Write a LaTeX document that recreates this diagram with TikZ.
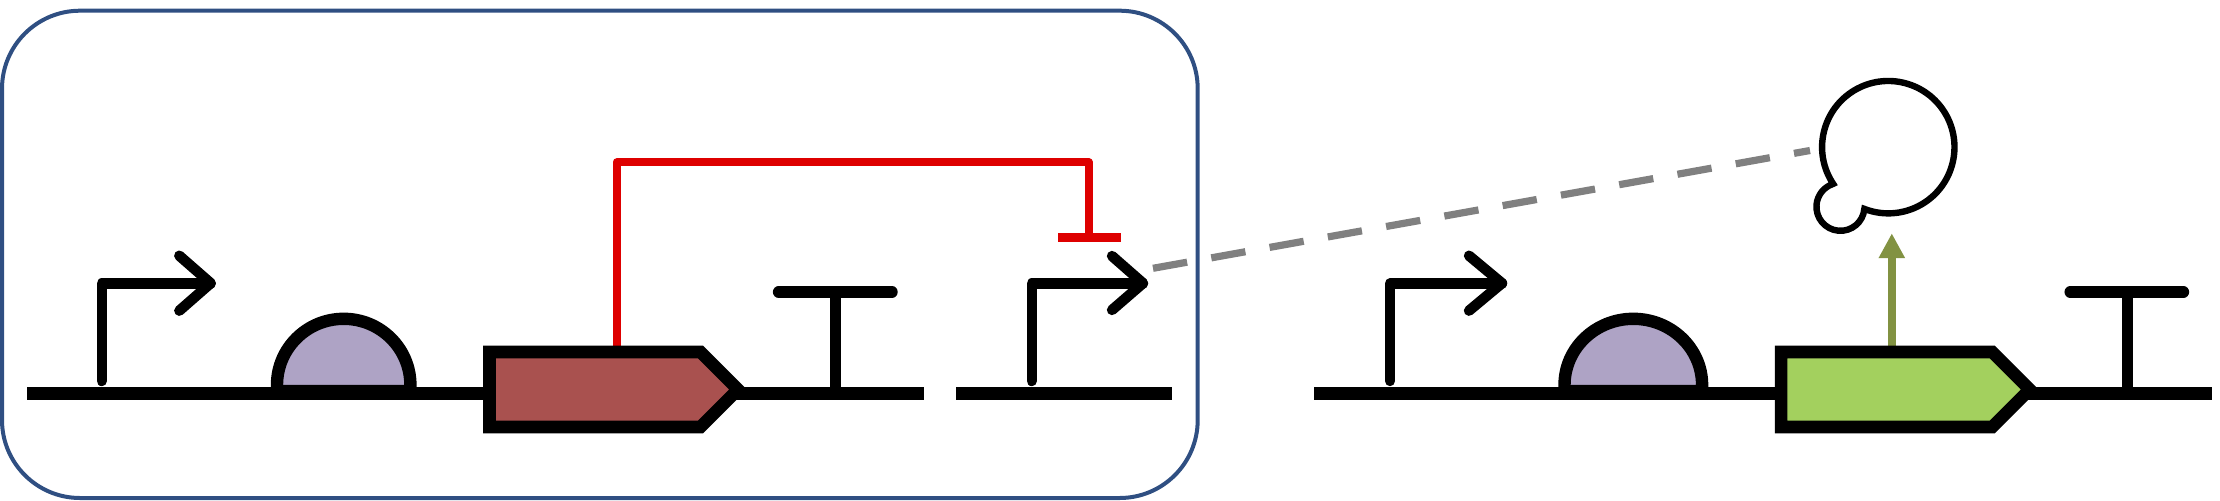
\documentclass[tikz,border=0pt]{standalone}
\usetikzlibrary{arrows.meta}
\definecolor{framecol}{RGB}{47,79,130}
\definecolor{rbscol}{RGB}{174,163,197}
\definecolor{geneAcol}{RGB}{169,81,79}
\definecolor{geneBcol}{RGB}{163,208,94}
\definecolor{repcol}{RGB}{222,0,0}
\definecolor{prodcol}{RGB}{130,146,66}
\tikzset{
  backbone/.style={line width=9.6pt},
  promoter/.style={line width=7.8pt,line cap=round,line join=round},
  terminator/.style={line width=8.6pt,line cap=round},
  rbspart/.style={line width=9.3pt,fill=rbscol},
  genepart/.style={line width=9.4pt,miter limit=10},
  repress/.style={repcol,line width=6.2pt,line join=round},
  produce/.style={prodcol,line width=6.2pt,-{Triangle[length=18.7pt,width=18.6pt]}},
  sensing/.style={gray,line width=5.4pt,dash pattern={on 26pt off 18.4pt}},
  protein/.style={line width=4.8pt,line join=miter,miter limit=10,fill=white}
}
\begin{document}
\begin{tikzpicture}[x=0.75pt,y=0.75pt,yscale=-1,xscale=1]
\useasboundingbox (0,0) rectangle (2220,500);

%Rounded Rect
\draw [framecol,line width=3pt,rounded corners=58.5pt] (2,10.7) rectangle (1197.7,498);

%Straight Lines
\draw [backbone] (27,393.5) -- (924,393.5);
\draw [backbone] (956.3,393.5) -- (1171.7,393.5);
\draw [backbone] (1314,393.5) -- (2211.7,393.5);

%Promoters
\draw [promoter] (101.7,381) -- (101.7,283.5) -- (210.7,283.5);
\draw [promoter] (179.3,255.7) -- (210.7,283.2) -- (179.3,310.7);
\draw [promoter] (1031.7,381) -- (1031.7,283.5) -- (1143,283.5);
\draw [promoter] (1112,256) -- (1143,283.2) -- (1112,310);
\draw [promoter] (1390,381) -- (1390,283.5) -- (1502,283.5);
\draw [promoter] (1469,255.7) -- (1502,283.2) -- (1469,310.7);

%RBS
\draw [rbspart] (277,391) -- (277,385) arc (180:360:66.7 and 66.2) -- (410.4,391) -- cycle;
\draw [rbspart] (1564.5,391) -- (1564.5,385) arc (180:360:68.8 and 66.2) -- (1702.1,391) -- cycle;

%Terminators
\draw [backbone,line width=8.2pt] (835.4,393.5) -- (835.4,292);
\draw [terminator] (778.6,292) -- (892,292);
\draw [backbone,line width=8.2pt] (2127.2,393.5) -- (2127.2,292);
\draw [terminator] (2070.2,292) -- (2183.4,292);

%Connectors
\coordinate (geneAtop) at (616.8,346);
\coordinate (repbar) at (1088.7,237.5);
\coordinate (geneBtop) at (1891.8,346);
\coordinate (proteintip) at (1891.8,233.3);
\coordinate (sensestart) at (1153,268.3);
\coordinate (sensestop) at (1810,150.5);

\draw [repress] (geneAtop) |- (1088.7,162.3) -- (repbar);
\draw [repcol,line width=6.4pt] (1058.3,237.5) -- (1120.7,237.5);
\draw [produce] (geneBtop) -- (proteintip);
\draw [sensing] (sensestart) -- (sensestop);

%Genes
\draw [genepart,fill=geneAcol] (489.5,352) -- (700.5,352) -- (738,389.5) -- (700.5,427) -- (489.5,427) -- cycle;
\draw [genepart,fill=geneBcol] (1781.2,352) -- (1992.2,352) -- (2029.7,389.5) -- (1992.2,427) -- (1781.2,427) -- cycle;

%Protein
\draw [protein] (1833.2,183.9) arc (146.3:471.2:66.2) arc (5:252.3:24) -- cycle;

\end{tikzpicture}
\end{document}
